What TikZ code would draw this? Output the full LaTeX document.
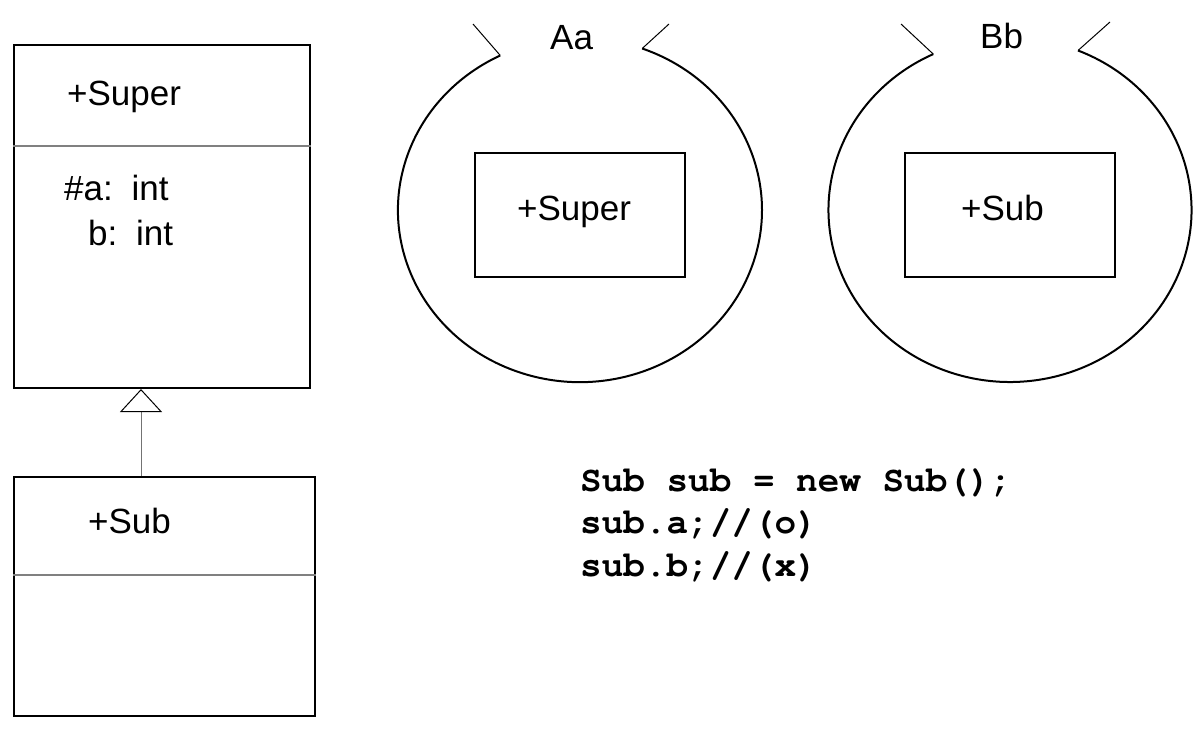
\documentclass[tikz,border=0pt]{standalone}
\usepackage{fontspec}
\setmainfont{Liberation Sans}
\usetikzlibrary{arrows.meta}
\newcommand\mycodefont{\fontencoding{T1}\fontfamily{pcr}\fontseries{b}\selectfont}
\begin{document}
\begin{tikzpicture}[x=1pt,y=-1pt,
  umlbox/.style={draw=black, line width=2pt, rectangle, inner sep=0pt},
  divider/.style={draw=black!50, line width=1.5pt},
  ring/.style={draw=black, line width=2pt},
  flick/.style={draw=black, line width=1pt},
  lbl/.style={font=\fontsize{35}{40}\selectfont, inner sep=0pt, anchor=base west},
  code/.style={font=\mycodefont\fontsize{36}{42}\selectfont, inner sep=0pt, anchor=base west},
  inherit/.style={draw=black!55, line width=1pt, -{Triangle[open, length=23pt, width=42pt, color=black, line width=1pt, fill=white]}}
]
\useasboundingbox (0,0) rectangle (1203,729);
% UML classes
\node[umlbox, minimum width=296pt, minimum height=343pt] (super) at (162,216.5) {};
\node[umlbox, minimum width=301pt, minimum height=239pt] (sub) at (164.5,596.5) {};
\draw[divider] (super.west |- 0,146) -- (super.east |- 0,146);
\draw[divider] (sub.west |- 0,575) -- (sub.east |- 0,575);
\node[lbl] (supername) at (67,105) {+Super};
\node[lbl] (attra) at (64,200) {\#a:\, int};
\node[lbl] (attrb) at (88,245) {b:\, int};
\node[lbl] (subname) at (88,533) {+Sub};
\coordinate (ax) at (141,0);
\draw[inherit] (ax |- sub.north) -- (ax |- super.south);
% Aa
\draw[ring] (642.2,48.5) arc[start angle=-70, end angle=244, x radius=182, y radius=172];
\draw[flick] (500.2,55.4) -- (473,24);
\draw[flick] (642.2,48.5) -- (669,24);
\node[lbl] (aa) at (550,49) {Aa};
\node[umlbox, minimum width=210pt, minimum height=124pt] (abox) at (580,215) {};
\node[lbl] (aboxname) at (517,220) {+Super};
% Bb
\draw[ring] (1078,50.5) arc[start angle=-68, end angle=245, x radius=181.5, y radius=172];
\draw[flick] (933.3,54.1) -- (901,24);
\draw[flick] (1078,50.5) -- (1110,22);
\node[lbl] (bb) at (980,48) {Bb};
\node[umlbox, minimum width=210pt, minimum height=124pt] (bbox) at (1010,215) {};
\node[lbl] (bboxname) at (961,220) {+Sub};
% code
\node[code] (c1) at (580,491) {Sub sub = new Sub();};
\node[code] (c2) at (580,533) {sub.a;//(o)};
\node[code] (c3) at (580,576) {sub.b;//(x)};
\end{tikzpicture}
\end{document}
